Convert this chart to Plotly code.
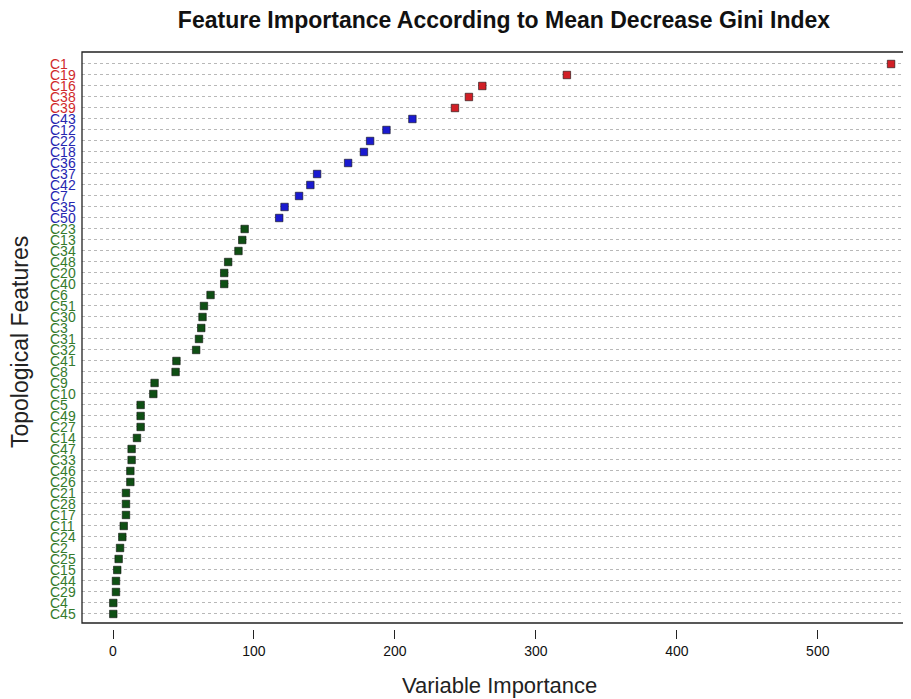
import plotly.graph_objects as go

features = ["C1", "C19", "C16", "C38", "C39",
            "C43", "C12", "C22", "C18", "C36", "C37", "C42", "C7", "C35", "C50",
            "C23", "C13", "C34", "C48", "C20", "C40", "C6", "C51", "C30", "C3",
            "C31", "C32", "C41", "C8", "C9", "C10", "C5", "C49", "C27", "C14",
            "C47", "C33", "C46", "C26", "C21", "C28", "C17", "C11", "C24", "C2",
            "C25", "C15", "C44", "C29", "C4", "C45"]
importance = [552, 322, 262, 252.5, 242.6,
              212.4, 194, 182.4, 178, 166.8, 144.8, 140, 132, 121.7, 117.9,
              93.4, 91.7, 89, 81.7, 78.9, 78.9, 69.2, 64.5, 63.5, 62.6,
              61, 59, 45, 44.4, 29.5, 28.6, 19.6, 19.6, 19.6, 17,
              13.2, 13.2, 12.3, 12.3, 9.2, 9.2, 9.2, 7.6, 6.6, 5,
              4, 3, 2.1, 2.1, 0.2, 0.2]
groups = ["high"] * 5 + ["mid"] * 10 + ["low"] * 36

marker_colors = {"high": "#d11f26", "mid": "#1a1ad0", "low": "#0f4f14"}
label_colors = {"high": "#d02a2a", "mid": "#2626b0", "low": "#357a2c"}
x_ticks = [0, 100, 200, 300, 400, 500]

positions = list(range(len(features)))

# page has an 8px body margin; figure is sized to fit the 911x699 window
OFF = 8
W, H = 911 - OFF, 699 - OFF
ML, MR, MT, MB = 82 - OFF, 3, 52 - OFF, 70
plot_w = W - ML - MR
plot_h = H - MT - MB

def px_x(px):
    return (px - OFF - ML) / plot_w

def px_y(py):
    return (H - MB - (py - OFF)) / plot_h

narrow = "Liberation Sans Narrow, Arial Narrow, Liberation Sans, Arial, sans-serif"

fig = go.Figure()
fig.add_trace(go.Scatter(
    x=importance, y=positions, mode="markers",
    marker=dict(symbol="square", size=7.5,
                color=[marker_colors[g] for g in groups],
                line=dict(width=0.6, color="#111111")),
    showlegend=False, hoverinfo="x+text", text=features,
))

annotations = []
for f, g, p in zip(features, groups, positions):
    annotations.append(dict(text=f, xref="paper", x=px_x(48), xanchor="left",
                            yref="y", y=p, yanchor="middle", showarrow=False,
                            font=dict(family=narrow, size=14, color=label_colors[g])))
annotations.append(dict(text="Topological Features", xref="paper", x=px_x(20),
                        yref="paper", y=px_y(342), textangle=-90, showarrow=False,
                        xanchor="center", yanchor="middle",
                        font=dict(size=23, color="#222222")))
annotations.append(dict(text="Variable Importance", xref="paper", x=px_x(500),
                        yref="paper", y=px_y(685), showarrow=False,
                        xanchor="center", yanchor="middle",
                        font=dict(size=22, color="#222222")))

fig.update_layout(
    width=W, height=H,
    margin=dict(l=ML, r=MR, t=MT, b=MB),
    paper_bgcolor="white", plot_bgcolor="white",
    font=dict(family="Liberation Sans, Arial, sans-serif", color="#111111"),
    title=dict(text="<b>Feature Importance According to Mean Decrease Gini Index</b>",
               xref="paper", x=px_x(504), xanchor="center",
               y=1 - (20 - OFF) / H, yanchor="middle",
               font=dict(size=23, color="#111111")),
    xaxis=dict(range=[-22, 564], tickvals=x_ticks, ticks="outside", ticklen=9,
               tickcolor="#222222", tickwidth=1, showgrid=False, zeroline=False,
               showline=False, anchor="free", position=0, automargin=False,
               tickfont=dict(family=narrow, size=14, color="#111111")),
    yaxis=dict(domain=[6 / plot_h, 1], range=[50.82, -1.09], tickmode="array",
               tickvals=positions, showticklabels=False, automargin=False,
               ticks="", showgrid=True,
               gridcolor="#b8b8b8", griddash="dot", gridwidth=1,
               zeroline=False, showline=False),
    shapes=[dict(type="rect", xref="x domain", yref="y domain", x0=0, x1=1, y0=0, y1=1,
                 line=dict(color="#222222", width=1.3), fillcolor="rgba(0,0,0,0)")],
    annotations=annotations,
)

fig.write_html("out.html")
